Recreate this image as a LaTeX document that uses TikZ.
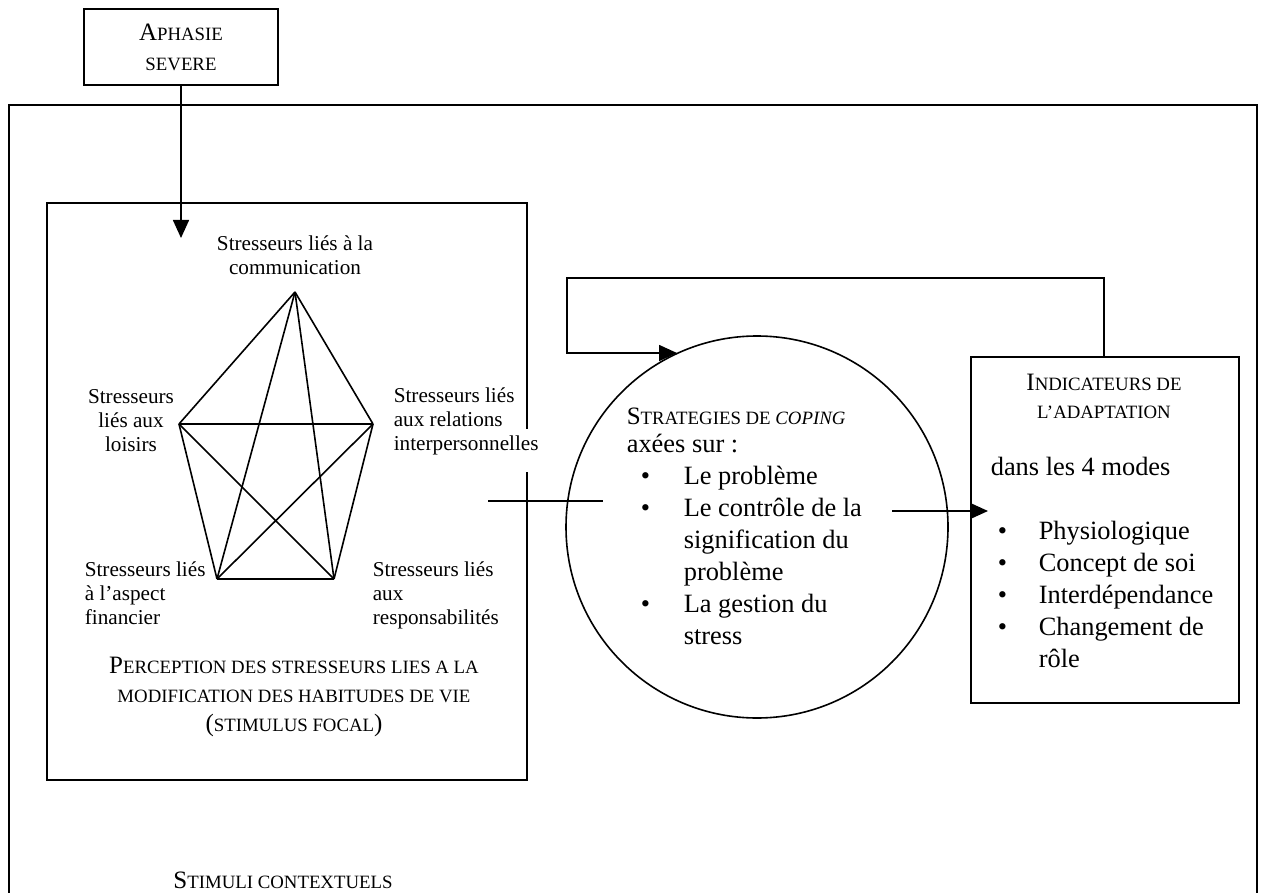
\documentclass[tikz,border=0pt]{standalone}
\usepackage{fontspec}
\setmainfont{Liberation Serif}
\usetikzlibrary{arrows.meta}
\newcommand\pc[1]{{\fontsize{9.4}{14}\selectfont #1}}
\newcommand\puce[2]{\hspace*{#1}\makebox[#2][l]{\textbullet}}
\begin{document}
\begin{tikzpicture}[x=0.5pt,y=-0.5pt,line width=0.8pt,>={Triangle[length=9pt,width=8pt]},
	boite/.style={draw,inner sep=0pt},
	stress/.style={font=\fontsize{10.6}{12}\selectfont,inner sep=0pt},
	grand/.style={font=\fontsize{13.2}{16}\selectfont,inner sep=0pt,align=left},
	titre/.style={font=\fontsize{12.5}{14.5}\selectfont,inner sep=0pt,align=center}]
	\useasboundingbox (0,0) rectangle (1264,893);
	% cadre des stimuli contextuels
	\draw[line width=1pt] (9,893)--(9,105)--(1257,105)--(1257,893);
	\node[titre] (contexte) at (283,880) {S\pc{TIMULI CONTEXTUELS}};
	% aphasie
	\node[boite,titre,minimum width=97pt,minimum height=38pt,font=\fontsize{12.5}{15}\selectfont] (aphasie) at (181,47) {A\pc{PHASIE}\\\pc{SEVERE}};
	% stimulus focal
	\node[boite,anchor=north west,minimum width=240pt,minimum height=288.5pt] (focal) at (46,202) {};
	\coordinate (com) at (295,292);
	\coordinate (loi) at (179,424);
	\coordinate (rel) at (373,424);
	\coordinate (fin) at (217,579);
	\coordinate (res) at (334,579);
	\foreach \a/\b in {com/loi,com/rel,com/fin,com/res,loi/rel,loi/fin,loi/res,rel/fin,rel/res,fin/res}
		\draw (\a)--(\b);
	\node[stress,align=center] (lcom) at (295,255) {Stresseurs liés à la\\communication};
	\node[stress,align=center] (lloi) at (131,421) {Stresseurs\\liés aux\\loisirs};
	\node[stress,align=left,anchor=base west] (lrel) at (393,426) {Stresseurs liés\\aux relations};
	\node[stress,anchor=base west,fill=white,inner ysep=3pt,text depth=8pt] (lrelb) at (393,450) {interpersonnelles};
	\node[stress,align=left,anchor=base west] (lfin) at (84,624) {Stresseurs liés\\à l’aspect\\financier};
	\node[stress,align=left,anchor=base west] (lres) at (372,624) {Stresseurs liés\\aux\\responsabilités};
	\node[titre] (percep) at (294,697) {P\pc{ERCEPTION DES STRESSEURS LIES A LA}\\\pc{MODIFICATION DES HABITUDES DE VIE}\\(\pc{STIMULUS FOCAL})};
	% coping
	\node[boite,circle,minimum size=191pt] (coping) at (757,527) {};
	\node[titre,anchor=base west] (tcoping) at (626,424) {S\pc{TRATEGIES DE \textit{COPING}}};
	\node[grand,anchor=base west] (lcoping) at (626,644) {axées sur :\\
		\puce{7pt}{21.5pt}Le problème\\
		\puce{7pt}{21.5pt}Le contrôle de la\\
		\hspace*{28.5pt}signification du\\
		\hspace*{28.5pt}problème\\
		\puce{7pt}{21.5pt}La gestion du\\
		\hspace*{28.5pt}stress};
	% adaptation
	\node[boite,anchor=north west,minimum width=134pt,minimum height=173pt] (indic) at (970,356) {};
	\node[titre,font=\fontsize{12.5}{14}\selectfont] (tindic) at (1104,396) {I\pc{NDICATEURS DE}\\\pc{L’ADAPTATION}};
	\node[grand,anchor=base west] (modes) at (990,475) {dans les 4 modes};
	\node[grand,anchor=base west] (lindic) at (990,667) {\puce{3.5pt}{20.5pt}Physiologique\\
		\puce{3.5pt}{20.5pt}Concept de soi\\
		\puce{3.5pt}{20.5pt}Interdépendance\\
		\puce{3.5pt}{20.5pt}Changement de\\
		\hspace*{24pt}rôle};
	% fleches
	\coordinate (pointe) at (181,238);
	\draw[->] (aphasie.south)--(pointe);
	\coordinate (retour) at (1104,356);
	\coordinate (entree) at (677,353);
	\draw[->] (retour)|-(567,278)|-(entree);
	\coordinate (gauche) at (488,501);
	\coordinate (droite) at (603,501);
	\draw (gauche)--(droite);
	\coordinate (sortie) at (892,511);
	\coordinate (cible) at (988,511);
	\draw[->] (sortie)--(cible);
\end{tikzpicture}
\end{document}
